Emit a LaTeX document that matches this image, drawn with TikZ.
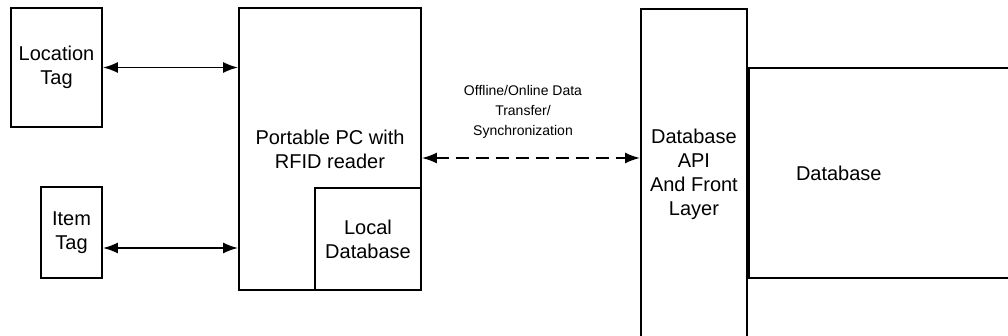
\documentclass[tikz,border=0pt]{standalone}
\usepackage{fontspec}
\setsansfont{Liberation Sans}
\usetikzlibrary{arrows.meta, positioning, calc}

\begin{document}
\begin{tikzpicture}[x=1pt, y=-1pt, font=\sffamily\fontsize{20}{24}\selectfont,
    box/.style={draw, line width=1.8pt, align=center, inner sep=0pt},
    link/.style={line width=1.8pt, {Latex[length=15pt,width=11pt]}-{Latex[length=15pt,width=11pt]}},
    smalltext/.style={font=\sffamily\fontsize{14}{20}\selectfont, align=center}]
    % Frame
    \clip (0,0) rectangle (1008,336);

    % Tags
    \node[box, minimum width=91pt, minimum height=119pt] (loc) at (56.5,67.5) {Location\\Tag};
    \node[box, minimum width=61pt, minimum height=91pt] (item) at (71.5,232.5) {Item\\Tag};

    % Reader
    \node[box, minimum width=182pt, minimum height=282pt] (pc) at (330,149) {Portable PC with\\RFID reader};
    \node[box, minimum width=106pt, minimum height=102pt, anchor=south east] (localdb) at (pc.south east) {Local\\Database};

    % Server side
    \node[box, minimum width=106pt, minimum height=330pt, anchor=north west] (api) at (640,8) {Database\\API\\And Front\\Layer};
    \coordinate (dbtop) at (0,67);
    \node[box, minimum width=400pt, minimum height=210pt, anchor=north west] (db) at (api.east |- dbtop) {};
    \node (dbtext) at ([xshift=91pt]db.west) {Database};

    % Links
    \coordinate (itemrow) at (0,248);
    \coordinate (syncrow) at (0,158);
    \draw[link] (loc.east) -- (loc.east -| pc.west);
    \draw[link] (item.east |- itemrow) -- (pc.west |- itemrow);
    \draw[link, dash pattern=on 13pt off 7pt] (pc.east |- syncrow) -- (api.west |- syncrow);
    \node[smalltext] (synclabel) at (523,112) {Offline/Online Data\\Transfer/\\Synchronization};
\end{tikzpicture}
\end{document}
